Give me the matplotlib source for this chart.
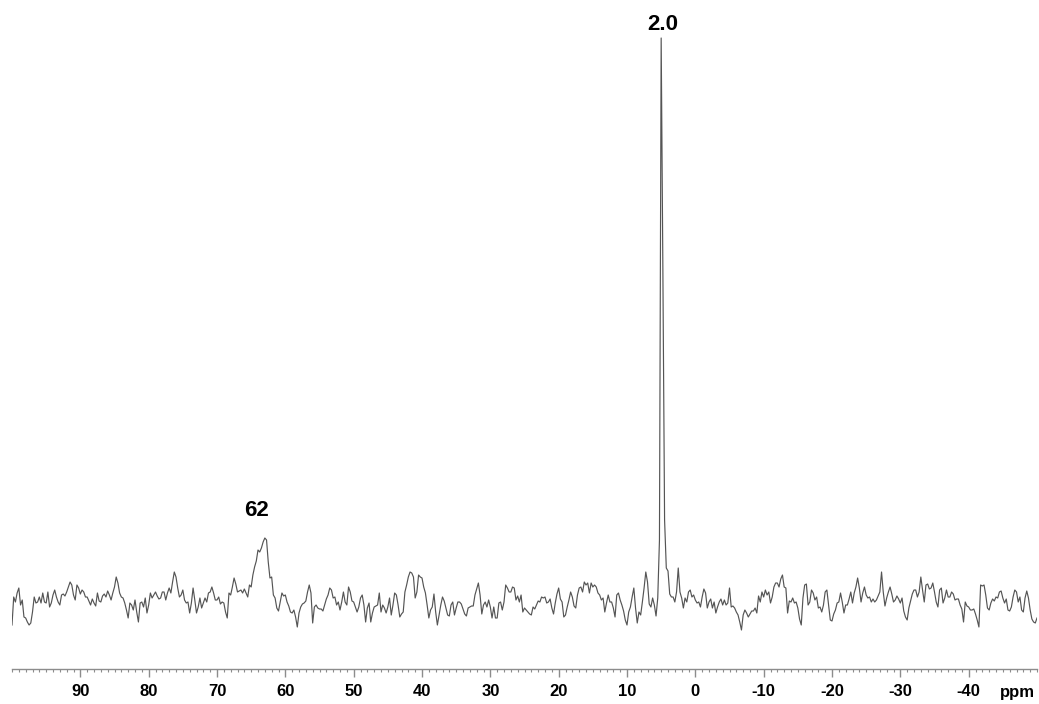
import numpy as np
import matplotlib
matplotlib.use("Agg")
import matplotlib.pyplot as plt
from matplotlib.ticker import FixedLocator, MultipleLocator
from matplotlib.transforms import blended_transform_factory

# Chemical-shift axis (ppm), sampled every 0.25 ppm from 100 down to -50
ppm = np.linspace(100, -50, 601)

# Spectrum intensity (arbitrary units) at each ppm point
intensity = [
    # 100 .. 71
    -25, 3, -2, 7, 12, -5, 0, -17, -18, -22,
    -25, -23, -12, 3, -3, -2, 3, -3, 7, -2,
    -3, 8, -7, -3, 5, 10, 3, -2, -5, 5,
    6, 4, 8, 13, 18, 15, 5, 0, 15, 12,
    6, 10, 8, 3, 3, -1, -5, 1, -3, -6,
    7, -1, -2, 4, 6, 3, 9, 5, 0, 7,
    13, 23, 17, 7, 3, 2, -3, -10, -18, -3,
    -5, -10, 0, -12, -22, -3, -2, -7, 2, -13,
    -5, 7, 2, 5, 8, 4, 1, 2, 8, 8,
    0, 7, 12, 7, 18, 28, 23, 12, 3, 5,
    10, 0, -3, -2, -13, -3, 12, 0, -13, -7,
    2, -8, -3, 2, -2, 7, 8,
    # 70.75 .. 41.5
    13, 7, 0, 0, 3, -4, -2, -3, -12, -18,
    7, 5, 13, 22, 16, 8, 9, 10, 7, 11,
    7, 3, 15, 13, 25, 33, 39, 50, 48, 52,
    58, 62, 60, 38, 22, 23, 5, 2, -8, -11,
    -2, 7, 4, 5, -2, -6, -12, -13, -10, -17,
    -27, -13, -7, -4, -3, -1, 8, 15, 7, -23,
    -7, -5, -8, -9, -9, -11, -5, 1, 5, 12,
    10, 2, 3, -5, -2, -10, -2, 8, -2, -5,
    13, 8, -1, -2, -7, -12, -7, 2, 5, -5,
    -22, -8, -3, -22, -13, -7, -6, -5, 7, -12,
    -5, -8, -13, -7, 2, -15, -5, 7, 5, -5,
    -17, -14, -12, 8, 15, 23, 28, 27,
    # 41.25 .. 11.5
    23, 2, 8, 25, 23, 22, 13, 7, -5, -18,
    -10, -7, 6, -12, -25, -15, -5, 3, -1, -8,
    -15, -16, -5, -2, -15, -8, -2, -2, -4, -9,
    -14, -16, -8, -7, -6, -6, 5, 11, 17, 5,
    -14, -5, -2, -7, 0, -7, -18, -7, -18, -18,
    -3, -2, -10, -2, 15, 12, 8, 8, 13, 12,
    0, 4, -2, 5, -12, -8, -10, -12, -14, -15,
    -7, -9, -5, -1, -2, 3, 2, 3, -3, -2,
    1, -8, -14, -3, 6, 12, 1, -2, -17, -15,
    -7, 0, 8, 3, -6, -8, 5, 12, 13, 8,
    18, 15, 17, 7, 17, 13, 15, 13, 7, 5,
    0, 2, -12, -3, 5, -2, -2, -8, -17, 5,
    # 11.25 .. -18.5
    7, 0, -5, -11, -20, -25, -12, -7, 3, 12,
    -8, -23, -12, -15, -2, 12, 28, 18, -4, -7,
    2, -5, -16, 2, 60, 562, 330, 80, 32, 29,
    6, 3, 3, -2, 8, 32, 8, 2, -8, 2,
    -2, 8, 10, 3, 5, 0, -3, -2, -7, 3,
    11, 7, -8, -2, 1, -8, -2, -13, -7, -2,
    1, -5, 0, -5, -3, 12, -7, -6, -8, -12,
    -15, -22, -30, -15, -10, -13, -17, -14, -11, -11,
    -8, -13, 4, -2, 8, 3, 10, 5, 8, -3,
    3, 13, 17, 17, 13, 21, 25, 13, 12, -13,
    -1, -2, 2, -3, -2, -8, -19, -25, 2, 15,
    16, -5, -2, 10, 7, 0, 3, -8, -7, -12,
    # -18.75 .. -50
    -5, 8, 10, -5, -20, -21, -14, -10, -3, -2,
    7, -2, -13, -5, -5, 1, 8, -3, 7, 13,
    22, 12, -2, 7, 13, 5, 2, 3, -2, 1,
    -2, 0, 4, 8, 28, 8, -6, 2, 8, 13,
    6, -2, 0, 4, 1, -3, 2, -11, -17, -20,
    -8, -1, 6, 10, 10, 3, 8, 23, 10, -2,
    15, 16, 11, 12, 17, 8, -2, -7, 10, 12,
    -3, 2, 10, 3, 3, 8, 6, 0, 1, 1,
    -5, -9, -22, -2, -6, -7, -10, -10, -9, -14,
    -20, -27, 15, 14, 15, 5, -8, -10, -3, 1,
    -1, 3, 2, 8, 9, 2, -3, 1, -10, -11,
    -7, 3, 10, 8, -2, 3, -10, -12, 2, 9,
    2, -10, -19, -22, -23, -18,
]

# Annotated signals: label text and the ppm window holding each maximum
peak_labels = ["2.0", "62"]
peak_windows = [(3.0, 7.0), (60.0, 66.0)]
label_offsets = [(2, 3), (-8, 17)]  # pixels from the maximum

major_ticks = [90, 80, 70, 60, 50, 40, 30, 20, 10, 0, -10, -20, -30, -40]

intensity = np.asarray(intensity, dtype=float)
assert len(intensity) == len(ppm)

W, H = 1039, 704
fig = plt.figure(figsize=(W / 100, H / 100), dpi=100)
ax = fig.add_axes([12 / W, 35 / H, 1025 / W, 669 / H])

ax.plot(ppm, intensity, color="#555555", linewidth=0.85)

ax.set_xlim(100, -50)
ax.set_ylim(-69, 600)

for s in ("top", "left", "right"):
    ax.spines[s].set_visible(False)
ax.spines["bottom"].set_color("#8c8c8c")
ax.spines["bottom"].set_linewidth(1.0)
ax.set_yticks([])

ax.xaxis.set_major_locator(FixedLocator(major_ticks))
ax.xaxis.set_minor_locator(MultipleLocator(1))
ax.set_xticklabels([str(t) for t in major_ticks])
ax.tick_params(axis="x", which="major", length=5.5, width=1.0, color="#8c8c8c",
               pad=5, labelsize=12)
ax.tick_params(axis="x", which="minor", length=2.4, width=0.8, color="#8c8c8c")
for lbl in ax.get_xticklabels():
    lbl.set_fontfamily("Liberation Sans")
    lbl.set_fontweight("bold")

trans = blended_transform_factory(ax.transData, ax.transAxes)
ax.text(-47.1, -16 / 669, "ppm", transform=trans, ha="center", va="top",
        fontsize=12, fontweight="bold", fontfamily="Liberation Sans")

for text, (hi, lo), off in zip(peak_labels, peak_windows, label_offsets):
    mask = (ppm <= lo) & (ppm >= hi)
    idx = np.argmax(np.where(mask, intensity, -np.inf))
    ax.annotate(text, xy=(ppm[idx], intensity[idx]), xytext=off,
                textcoords="offset pixels", ha="center", va="bottom",
                fontsize=16, fontweight="bold", fontfamily="Liberation Sans")

fig.savefig("out.png", dpi=100)
